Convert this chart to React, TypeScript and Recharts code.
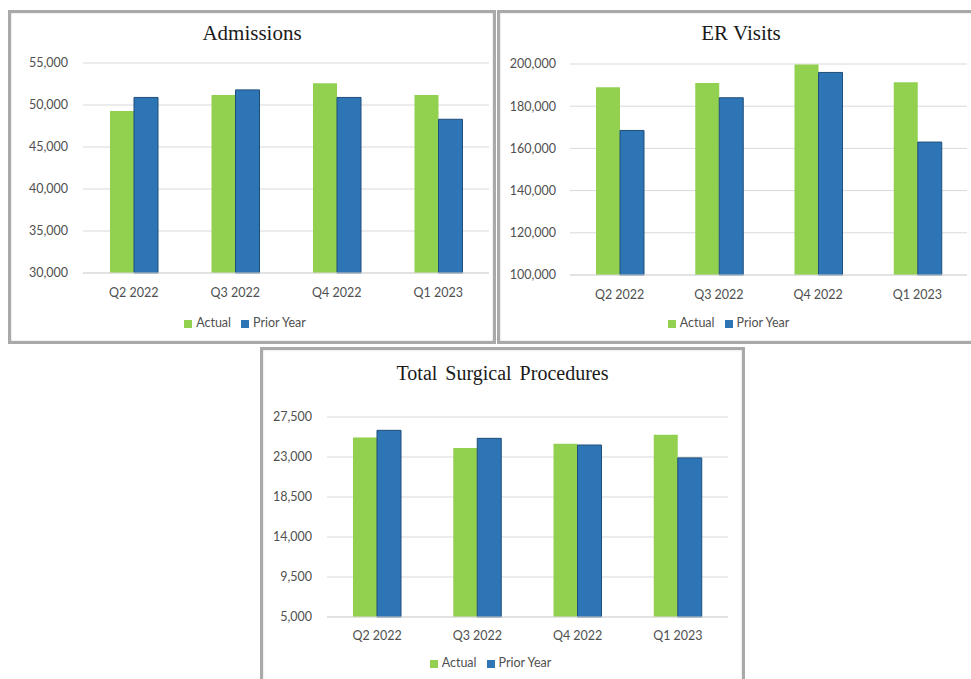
import { BarChart, Bar, XAxis, YAxis, CartesianGrid, Legend } from 'recharts'

const quarters = ['Q2 2022', 'Q3 2022', 'Q4 2022', 'Q1 2023']

const admissionsActual = [49300, 51200, 52600, 51200]
const admissionsPrior = [50900, 51800, 50900, 48300]
const admissionsTicks = [30000, 35000, 40000, 45000, 50000, 55000]

const erActual = [189000, 191000, 199800, 191300]
const erPrior = [168500, 184000, 196000, 163000]
const erTicks = [100000, 120000, 140000, 160000, 180000, 200000]

const surgicalActual = [25200, 24000, 24500, 25500]
const surgicalPrior = [26000, 25100, 24350, 22900]
const surgicalTicks = [5000, 9500, 14000, 18500, 23000, 27500]

const GREEN = '#92d050'
const BLUE = '#2e75b6'
const TEXT = '#505050'
const GRID = '#d9d9d9'
const FONT = 'Lato, "Open Sans", sans-serif'

const toRows = (actual: number[], prior: number[]) =>
  quarters.map((q, i) => ({ quarter: q, actual: actual[i], prior: prior[i] }))

interface PanelProps {
  title: string
  left: number
  top: number
  width: number
  height: number
  titleTop: number
  titleSize: number
  wordSpacing?: number
  actual: number[]
  prior: number[]
  ticks: number[]
  margin: { top: number; right: number; bottom: number; left: number }
  yWidth: number
  yTickMargin: number
  xHeight: number
  xTickMargin: number
}

function Panel(p: PanelProps) {
  const innerW = p.width - 6
  const innerH = p.height - 6
  const fmt = (v: number) => v.toLocaleString('en-US')
  return (
    <div
      style={{
        position: 'absolute',
        left: p.left,
        top: p.top,
        width: p.width,
        height: p.height,
        boxSizing: 'border-box',
        border: '3px solid #a9a9a9',
        boxShadow: 'inset 0 0 2px #c8c8c8',
        background: '#fff',
      }}
    >
      <div
        style={{
          position: 'absolute',
          left: 0,
          top: p.titleTop,
          width: innerW,
          textAlign: 'center',
          fontFamily: '"Liberation Serif", "Times New Roman", serif',
          fontSize: p.titleSize,
          lineHeight: '24px',
          color: '#1a1a1a',
          wordSpacing: p.wordSpacing ?? 0,
        }}
      >
        {p.title}
      </div>
      <BarChart
        width={innerW}
        height={innerH}
        data={toRows(p.actual, p.prior)}
        margin={p.margin}
        barGap={0}
        barSize={24}
        style={{ position: 'absolute', left: 0, top: 0 }}
      >
        <CartesianGrid vertical={false} stroke={GRID} />
        <XAxis
          dataKey="quarter"
          height={p.xHeight}
          tickLine={false}
          tickSize={0}
          tickMargin={p.xTickMargin}
          axisLine={{ stroke: GRID }}
          tick={{ fill: TEXT, fontSize: 12.5, fontFamily: FONT }}
        />
        <YAxis
          width={p.yWidth}
          domain={[p.ticks[0], p.ticks[p.ticks.length - 1]]}
          ticks={p.ticks}
          tickFormatter={fmt}
          axisLine={false}
          tickLine={false}
          tickSize={0}
          tickMargin={p.yTickMargin}
          tick={{ fill: TEXT, fontSize: 12.5, fontFamily: FONT }}
        />
        <Legend
          verticalAlign="bottom"
          iconType="square"
          iconSize={8}
          wrapperStyle={{ fontSize: 12.5, fontFamily: FONT, lineHeight: '16px' }}
          formatter={(value: string) => <span style={{ color: TEXT }}>{value}</span>}
        />
        <Bar dataKey="actual" name="Actual" fill={GREEN} isAnimationActive={false} />
        <Bar dataKey="prior" name="Prior Year" fill={BLUE} stroke="#1f4e79" strokeWidth={1} isAnimationActive={false} />
      </BarChart>
    </div>
  )
}

export default function App() {
  return (
    <div
      style={{
        position: 'absolute',
        left: 0,
        top: 0,
        width: 971,
        height: 679,
        overflow: 'hidden',
        background: '#fff',
      }}
    >
      <Panel
        title="Admissions"
        left={8}
        top={10}
        width={488}
        height={334}
        titleTop={8}
        titleSize={21}
        actual={admissionsActual}
        prior={admissionsPrior}
        ticks={admissionsTicks}
        margin={{ top: 50, right: 4, bottom: 10, left: 0 }}
        yWidth={72}
        yTickMargin={15}
        xHeight={42}
        xTickMargin={15}
      />
      <Panel
        title="ER Visits"
        left={497}
        top={10}
        width={488}
        height={334}
        titleTop={8}
        titleSize={21}
        actual={erActual}
        prior={erPrior}
        ticks={erTicks}
        margin={{ top: 51, right: 15, bottom: 10, left: 0 }}
        yWidth={70}
        yTickMargin={14}
        xHeight={40}
        xTickMargin={15}
      />
      <Panel
        title="Total Surgical Procedures"
        left={260}
        top={347}
        width={485}
        height={340}
        titleTop={11}
        titleSize={20}
        wordSpacing={3}
        actual={surgicalActual}
        prior={surgicalPrior}
        ticks={surgicalTicks}
        margin={{ top: 67, right: 14, bottom: 13, left: 0 }}
        yWidth={64}
        yTickMargin={15}
        xHeight={38}
        xTickMargin={14}
      />
    </div>
  )
}
